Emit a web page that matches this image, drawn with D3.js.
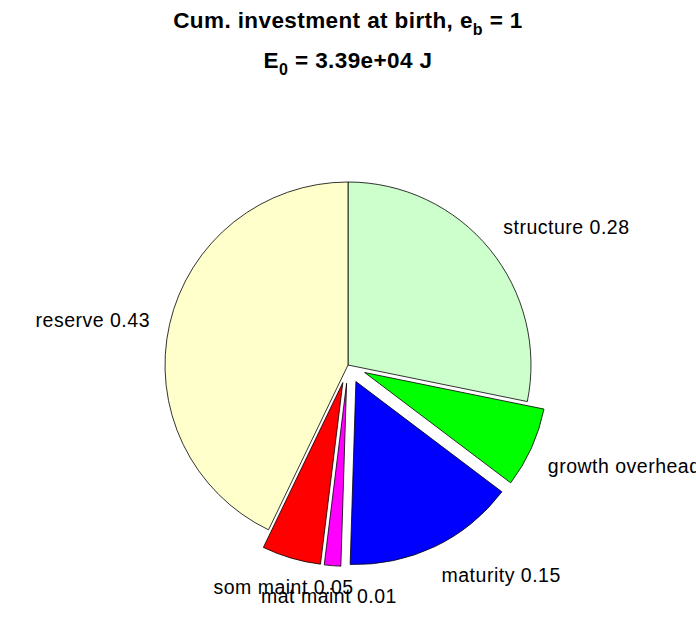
<!DOCTYPE html>
<html>
<head>
<meta charset="utf-8">
<script src="https://cdn.jsdelivr.net/npm/d3@7"></script>
<style>
  html, body { margin: 0; padding: 0; background: #fff; }
  svg { display: block; }
  text { font-family: "Liberation Sans", Arial, Helvetica, sans-serif; fill: #000; }
</style>
</head>
<body>
<svg id="chart" width="696" height="618"></svg>
<script>
// ---- data ----
const categories = ["structure", "growth overhead", "maturity", "mat maint", "som maint", "reserve"];
const fractions  = [0.282, 0.071, 0.152, 0.0145, 0.052, 0.4285];
const explode    = [0, 1, 1, 1, 1, 0];
const colors     = ["#CCFFCC", "#00FF00", "#0000FF", "#FF00FF", "#FF0000", "#FFFFCC"];
const titleLine1 = ["Cum. investment at birth, e", "b", " = 1"];
const titleLine2 = ["E", "0", " = 3.39e+04 J"];

// ---- layout ----
const W = 696, H = 618;
const cx = 348, cy = 365;
const r = d3.scaleLinear().domain([0, 1]).range([0, 183]); // pie units -> px
const explodeDist = 0.1, labelDist = 1.11;

const svg = d3.select("#chart");

const rows = categories.map((c, i) => ({ name: c, value: fractions[i], explode: explode[i], color: colors[i] }));
const pie = d3.pie().sort(null).value(d => d.value).startAngle(0).endAngle(2 * Math.PI);
const arcs = pie(rows);
const arc = d3.arc().innerRadius(0).outerRadius(r(1));

const g = svg.append("g").attr("transform", `translate(${cx},${cy})`);

arcs.forEach(a => {
  const mid = (a.startAngle + a.endAngle) / 2;
  a.dir = [Math.sin(mid), -Math.cos(mid)];
  const off = a.data.explode ? r(explodeDist) : 0;
  a.off = [a.dir[0] * off, a.dir[1] * off];
});

g.selectAll("path.slice")
  .data(arcs)
  .join("path")
  .attr("class", "slice")
  .attr("d", arc)
  .attr("transform", d => `translate(${d.off[0]},${d.off[1]})`)
  .attr("fill", d => d.data.color)
  .attr("stroke", "#000")
  .attr("stroke-width", 0.8)
  .attr("stroke-linejoin", "round");

// labels
g.selectAll("text.lab")
  .data(arcs)
  .join("text")
  .attr("class", "lab")
  .attr("font-size", 19.5)
  .attr("letter-spacing", 0.5)
  .each(function (d) {
    const ax = d.off[0] + d.dir[0] * r(labelDist);
    const ay = d.off[1] + d.dir[1] * r(labelDist);
    let anchor = "middle";
    let dx = 0;
    if (d.dir[0] > 0.35) { anchor = "start"; dx = -2; }
    else if (d.dir[0] < -0.35) anchor = "end";
    else dx = -2;
    let by;
    if (d.dir[1] > 0.35) by = ay + 17;
    else if (d.dir[1] < -0.35) by = ay - 3;
    else by = ay + 7;
    d3.select(this)
      .attr("x", ax + dx)
      .attr("y", by)
      .attr("text-anchor", anchor)
      .text(d.data.name + " " + d.data.value.toFixed(2));
  });

// title
function titleLine(parts, y) {
  const t = svg.append("text")
    .attr("x", cx)
    .attr("y", y)
    .attr("text-anchor", "middle")
    .attr("font-size", 22.5)
    .attr("font-weight", "bold")
    .attr("letter-spacing", 0.4);
  t.append("tspan").text(parts[0]);
  t.append("tspan").attr("dy", 7).attr("font-size", 16).text(parts[1]);
  t.append("tspan").attr("dy", -7).text(parts[2]);
}
titleLine(titleLine1, 28);
titleLine(titleLine2, 68);
</script>
</body>
</html>
